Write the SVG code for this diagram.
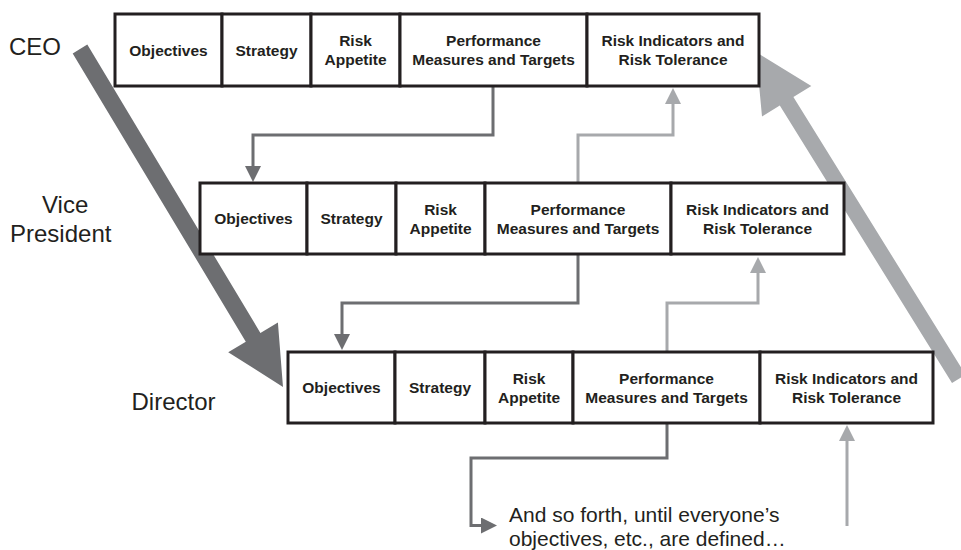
<svg xmlns="http://www.w3.org/2000/svg" width="961" height="550" viewBox="0 0 961 550">
<style>
.cell rect{fill:#fff;stroke:#231f20;stroke-width:3}
.cell text{font-family:"Liberation Sans",Arial,sans-serif;font-weight:bold;font-size:15.5px;fill:#231f20;text-anchor:middle}
.lbl{font-family:"Liberation Sans",Arial,sans-serif;font-size:24px;fill:#231f20}
.note{font-family:"Liberation Sans",Arial,sans-serif;font-size:21px;fill:#231f20}
.dk{fill:none;stroke:#6d6e71;stroke-width:3}
.lt{fill:none;stroke:#a7a9ac;stroke-width:3}
</style>
<defs>
<marker id="hd" markerUnits="userSpaceOnUse" markerWidth="16" markerHeight="16" viewBox="0 0 16 16" refX="0" refY="8" orient="auto"><path d="M0,0 L16,8 L0,16 z" fill="#6d6e71"/></marker>
<marker id="hl" markerUnits="userSpaceOnUse" markerWidth="16" markerHeight="16" viewBox="0 0 16 16" refX="0" refY="8" orient="auto"><path d="M0,0 L16,8 L0,16 z" fill="#a7a9ac"/></marker>
</defs>
<g id="connectors">
<polygon fill="#6d6e71" points="87.3,44.6 260.4,332.9 277.9,322.4 283,387 228.2,352.2 245.8,341.7 72.7,53.4"/>
<polygon fill="#a7a9ac" points="965.6,374.6 793.4,97.1 811.3,86 756,52 762,116.6 779.8,105.5 952,383"/>
<path class="dk" d="M493,86 V135 H253 V166" marker-end="url(#hd)"/>
<path class="lt" d="M578,183 V135 H673 V104" marker-end="url(#hl)"/>
<path class="dk" d="M578,254 V303 H342 V334" marker-end="url(#hd)"/>
<path class="lt" d="M667,352 V303 H758 V273" marker-end="url(#hl)"/>
<path class="dk" d="M667,423 V458 H471 V525.5 H481" marker-end="url(#hd)"/>
<path class="lt" d="M847,526 V441" marker-end="url(#hl)"/>
</g>
<g id="ceo-objectives" class="cell"><rect x="115" y="14" width="107" height="72"/><text x="168.5" y="55.5">Objectives</text></g>
<g id="ceo-strategy" class="cell"><rect x="222" y="14" width="89" height="72"/><text x="266.5" y="55.5">Strategy</text></g>
<g id="ceo-risk-appetite" class="cell"><rect x="311" y="14" width="89" height="72"/><text x="355.5" y="46">Risk</text><text x="355.5" y="65">Appetite</text></g>
<g id="ceo-performance" class="cell"><rect x="400" y="14" width="187" height="72"/><text x="493.5" y="46">Performance</text><text x="493.5" y="65">Measures and Targets</text></g>
<g id="ceo-risk-indicators" class="cell"><rect x="587" y="14" width="172" height="72"/><text x="673" y="46">Risk Indicators and</text><text x="673" y="65">Risk Tolerance</text></g>

<g id="vp-objectives" class="cell"><rect x="200" y="183" width="107" height="71"/><text x="253.5" y="224">Objectives</text></g>
<g id="vp-strategy" class="cell"><rect x="307" y="183" width="89" height="71"/><text x="351.5" y="224">Strategy</text></g>
<g id="vp-risk-appetite" class="cell"><rect x="396" y="183" width="89" height="71"/><text x="440.5" y="214.5">Risk</text><text x="440.5" y="233.5">Appetite</text></g>
<g id="vp-performance" class="cell"><rect x="485" y="183" width="186" height="71"/><text x="578" y="214.5">Performance</text><text x="578" y="233.5">Measures and Targets</text></g>
<g id="vp-risk-indicators" class="cell"><rect x="671" y="183" width="173" height="71"/><text x="757.5" y="214.5">Risk Indicators and</text><text x="757.5" y="233.5">Risk Tolerance</text></g>

<g id="dir-objectives" class="cell"><rect x="288" y="352" width="107" height="71"/><text x="341.5" y="393">Objectives</text></g>
<g id="dir-strategy" class="cell"><rect x="395" y="352" width="90" height="71"/><text x="440" y="393">Strategy</text></g>
<g id="dir-risk-appetite" class="cell"><rect x="485" y="352" width="88" height="71"/><text x="529" y="383.5">Risk</text><text x="529" y="402.5">Appetite</text></g>
<g id="dir-performance" class="cell"><rect x="573" y="352" width="187" height="71"/><text x="666.5" y="383.5">Performance</text><text x="666.5" y="402.5">Measures and Targets</text></g>
<g id="dir-risk-indicators" class="cell"><rect x="760" y="352" width="173" height="71"/><text x="846.5" y="383.5">Risk Indicators and</text><text x="846.5" y="402.5">Risk Tolerance</text></g>

<g id="labels">
<text class="lbl" x="9" y="55">CEO</text>
<text class="lbl" x="42" y="213">Vice</text>
<text class="lbl" x="10" y="241.5">President</text>
<text class="lbl" x="131.5" y="410">Director</text>
<text class="note" x="509" y="521.5">And so forth, until everyone’s</text>
<text class="note" x="509" y="545.5">objectives, etc., are defined…</text>
</g>
</svg>
